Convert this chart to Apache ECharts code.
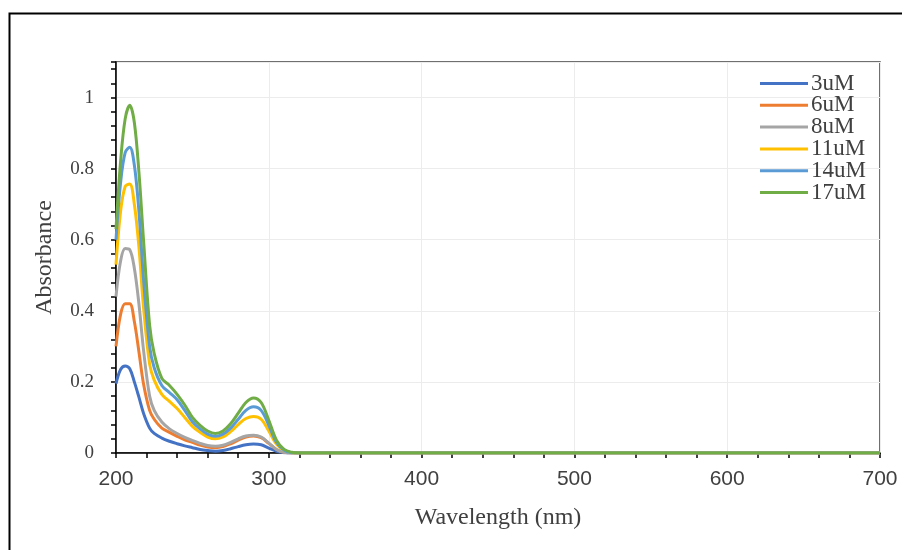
<!DOCTYPE html>
<html>
<head>
<meta charset="utf-8">
<script src="https://cdn.jsdelivr.net/npm/echarts@6/dist/echarts.min.js"></script>
<style>html,body{margin:0;padding:0;background:#fff;}#c{width:902px;height:550px;}</style>
</head>
<body>
<div id="c"></div>
<script>
const wavelength = [200,203,206,209,212,215,218,222,225,230,235,240,245,250,255,260,265,270,275,280,285,290,295,300,305,310,315,320,340,400,500,600,700];
const s3uM  = [0.195,0.235,0.245,0.237,0.2,0.157,0.112,0.07,0.055,0.042,0.033,0.026,0.02,0.015,0.01,0.007,0.005,0.007,0.012,0.018,0.023,0.025,0.023,0.014,0.005,0.001,0,0,0,0,0,0,0];
const s6uM  = [0.30,0.39,0.42,0.42,0.37,0.285,0.195,0.12,0.095,0.07,0.058,0.047,0.037,0.03,0.022,0.017,0.015,0.018,0.026,0.036,0.045,0.048,0.043,0.027,0.01,0.002,0,0,0,0,0,0,0];
const s8uM  = [0.44,0.54,0.575,0.572,0.52,0.42,0.29,0.16,0.12,0.087,0.068,0.055,0.044,0.035,0.027,0.021,0.019,0.022,0.03,0.04,0.048,0.05,0.045,0.028,0.01,0.002,0,0,0,0,0,0,0];
const s11uM = [0.53,0.68,0.75,0.757,0.70,0.58,0.41,0.25,0.205,0.165,0.145,0.125,0.1,0.075,0.058,0.045,0.04,0.045,0.06,0.08,0.097,0.103,0.095,0.062,0.025,0.007,0.001,0,0,0,0,0,0];
const s14uM = [0.60,0.76,0.845,0.86,0.81,0.68,0.49,0.30,0.24,0.19,0.17,0.15,0.12,0.088,0.068,0.053,0.047,0.053,0.07,0.095,0.12,0.13,0.12,0.078,0.03,0.008,0.001,0,0,0,0,0,0];
const s17uM = [0.63,0.82,0.94,0.978,0.93,0.79,0.60,0.36,0.28,0.21,0.19,0.165,0.135,0.1,0.078,0.062,0.055,0.062,0.082,0.112,0.142,0.155,0.142,0.092,0.036,0.01,0.002,0,0,0,0,0,0];
const seriesNames = ['3uM','6uM','8uM','11uM','14uM','17uM'];
const seriesValues = [s3uM,s6uM,s8uM,s11uM,s14uM,s17uM];
const colors = ['#4472C4','#ED7D31','#A5A5A5','#FFC000','#5B9BD5','#70AD47'];

const chart = echarts.init(document.getElementById('c'));
const serif = 'Liberation Serif';
chart.setOption({
  animation: false,
  color: colors,
  graphic: [{
    type: 'rect', left: 7, top: 11, shape: {x:0,y:0,width: 1000, height: 1000},
    style: {fill: 'none', stroke: '#000', lineWidth: 2}, silent: true, z: -1
  }],
  grid: {left: 116, right: 22, top: 62, bottom: 97, show: true, borderColor: '#404040', borderWidth: 1.5, backgroundColor: 'transparent'},
  legend: {
    orient: 'vertical', left: 760, top: 72, padding: 0, itemWidth: 48, itemHeight: 3, itemGap: -1.2,
    icon: 'rect',
    textStyle: {fontFamily: serif, fontSize: 23, color: '#404040', lineHeight: 20.5, padding: [0,0,0,-2]},
    data: seriesNames
  },
  xAxis: {
    type: 'value', min: 200, max: 700, interval: 100,
    name: 'Wavelength (nm)', nameLocation: 'middle', nameGap: 53,
    nameTextStyle: {fontFamily: serif, fontSize: 24, color: '#404040'},
    axisLine: {lineStyle: {color: '#000', width: 1.5}},
    axisTick: {show: true, inside: false, length: 5, lineStyle: {color: '#000', width: 1.5}},
    minorTick: {show: true, splitNumber: 5, length: 5, lineStyle: {color: '#000', width: 1.5}},
    axisLabel: {fontFamily: 'Liberation Sans', fontSize: 21, color: '#404040', margin: 16},
    splitLine: {show: true, lineStyle: {color: '#ececec', width: 1}}
  },
  yAxis: {
    type: 'value', min: 0, max: 1.1, interval: 0.2,
    name: 'Absorbance', nameLocation: 'middle', nameGap: 59,
    nameTextStyle: {fontFamily: serif, fontSize: 24, color: '#404040'},
    axisLine: {show: true, lineStyle: {color: '#000', width: 1.5}},
    axisTick: {show: true, inside: false, length: 5, lineStyle: {color: '#000', width: 1.5}},
    minorTick: {show: true, splitNumber: 5, length: 5, lineStyle: {color: '#000', width: 1.5}},
    axisLabel: {fontFamily: serif, fontSize: 19, color: '#404040', margin: 22, showMaxLabel: false,
      formatter: v => (Math.abs(v*5 - Math.round(v*5)) < 1e-6) ? String(Math.round(v*10)/10) : ''},
    splitLine: {show: true, lineStyle: {color: '#ececec', width: 1}}
  },
  series: seriesNames.map((n, i) => ({
    name: n, type: 'line', symbol: 'none', smooth: 0.35,
    lineStyle: {width: 3, color: colors[i]},
    data: wavelength.map((w, k) => [w, seriesValues[i][k]])
  }))
});
</script>
</body>
</html>
